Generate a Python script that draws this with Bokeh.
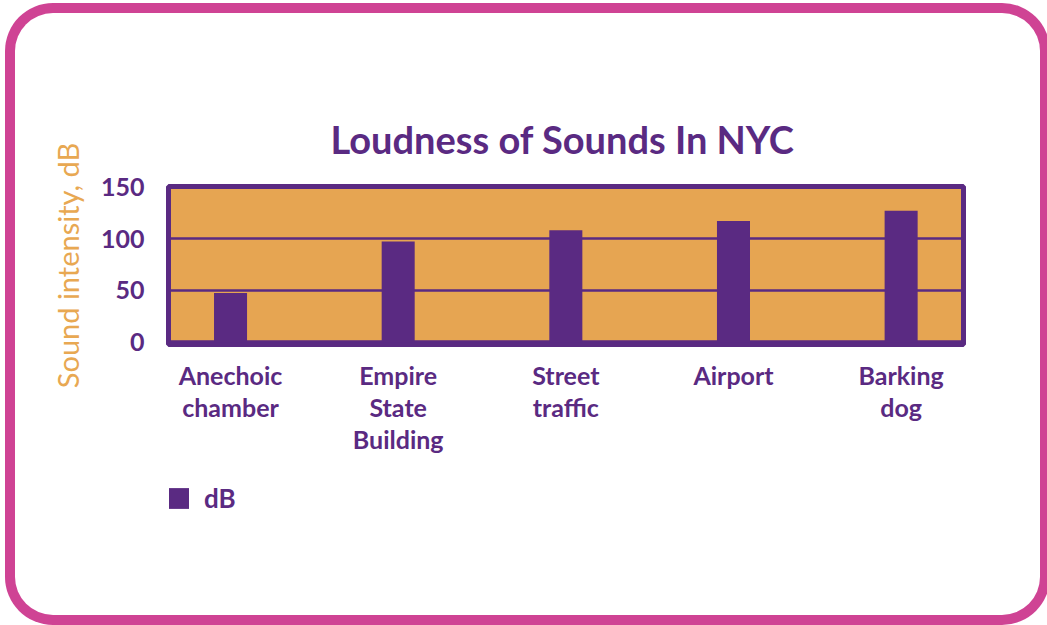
from bokeh.plotting import figure
from bokeh.layouts import column
from bokeh.models import Range1d, FixedTicker, Legend, LegendItem, ColumnDataSource
from bokeh.embed import file_html
from bokeh.resources import INLINE

# ---- data ----
categories = ["Anechoic\nchamber", "Empire\nState\nBuilding", "Street\ntraffic", "Airport", "Barking\ndog"]
db_values = [47, 97, 108, 117, 127]
y_ticks = [0, 50, 100, 150]
title_text = "Loudness of Sounds In NYC"
y_label = "Sound intensity, dB"
series_name = "dB"

PURPLE = "#5a2a82"
ORANGE = "#e6a552"
PINK = "#cf4394"
FONT = "Lato"

W = 1025
FL, FT, FW, FH = 153, 173, 795, 158
BOT = 128
H1 = FT + FH + BOT          # main chart height
H2 = 602 - H1               # legend strip height

x_pos = list(range(len(categories)))
src = ColumnDataSource(dict(x=x_pos, top=db_values))

# ---------------- main chart ----------------
p = figure(width=W, height=H1, frame_width=FW, frame_height=FH,
           output_backend="svg", toolbar_location=None,
           x_range=Range1d(-0.37, 4.372), y_range=Range1d(-2.9, 150.5),
           min_border_left=FL, min_border_right=W - FL - FW,
           min_border_top=FT, min_border_bottom=BOT)

p.background_fill_color = ORANGE
p.border_fill_alpha = 0
p.outline_line_color = PURPLE
p.outline_line_width = 5
p.outline_line_alpha = 1

r = p.vbar(x="x", top="top", bottom=0, width=0.197, source=src,
           fill_color=PURPLE, line_color=None)

p.xgrid.visible = False
p.ygrid.ticker = FixedTicker(ticks=y_ticks)
p.ygrid.grid_line_color = PURPLE
p.ygrid.grid_line_width = 2.7
p.ygrid.grid_line_alpha = 1

# y axis
p.yaxis.ticker = FixedTicker(ticks=y_ticks)
p.yaxis.axis_line_color = None
p.yaxis.major_tick_line_color = None
p.yaxis.minor_tick_line_color = None
p.yaxis.major_label_standoff = 18
p.yaxis.major_label_text_font = FONT
p.yaxis.major_label_text_font_style = "bold"
p.yaxis.major_label_text_font_size = "25px"
p.yaxis.major_label_text_color = PURPLE
p.yaxis.axis_label = y_label
p.yaxis.axis_label_text_font = FONT
p.yaxis.axis_label_text_font_style = "normal"
p.yaxis.axis_label_text_font_size = "29px"
p.yaxis.axis_label_text_color = "#e8a852"
p.yaxis.axis_label_standoff = 13

# x axis
p.xaxis.ticker = FixedTicker(ticks=x_pos)
p.xaxis.major_label_overrides = {i: c for i, c in zip(x_pos, categories)}
p.xaxis.axis_line_color = None
p.xaxis.major_tick_line_color = None
p.xaxis.minor_tick_line_color = None
p.xaxis.major_label_standoff = 9
p.xaxis.major_label_text_font = FONT
p.xaxis.major_label_text_font_style = "bold"
p.xaxis.major_label_text_font_size = "25px"
p.xaxis.major_label_text_color = PURPLE
p.xaxis.major_label_text_line_height = 1.07

# title
p.title.text = title_text
p.title.align = "left"
p.title.offset = 162
p.title.standoff = 49
p.title.text_font = FONT
p.title.text_font_style = "bold"
p.title.text_font_size = "38px"
p.title.text_color = PURPLE

# ---------------- legend strip ----------------
p2 = figure(width=W, height=H2, output_backend="svg", toolbar_location=None,
            title=None, x_axis_location=None, y_axis_location=None,
            x_range=Range1d(-0.37, 4.372), y_range=Range1d(1000, 1001),
            min_border=0)
p2.outline_line_color = None
p2.background_fill_alpha = 0
p2.border_fill_alpha = 0
p2.grid.visible = False
r2 = p2.vbar(x="x", top="top", bottom=0, width=0.197, source=src,
             fill_color=PURPLE, line_color=None)

legend = Legend(items=[LegendItem(label=series_name, renderers=[r2])],
                location=(-2, 101), orientation="horizontal",
                glyph_width=25, glyph_height=26, label_height=26, label_standoff=13,
                label_text_font=FONT, label_text_font_style="bold",
                label_text_font_size="26px", label_text_color=PURPLE,
                border_line_color=None, background_fill_alpha=0,
                padding=0, margin=0)
p2.add_layout(legend, "center")

# rounded pink card border around the whole chart
page = column(p, p2, spacing=0,
              styles={"box-shadow": f"0 0 0 10px {PINK}", "border-radius": "38px",
                      "margin-left": "15px", "margin-top": "13px"})

open("out.html", "w").write(file_html(page, INLINE))
